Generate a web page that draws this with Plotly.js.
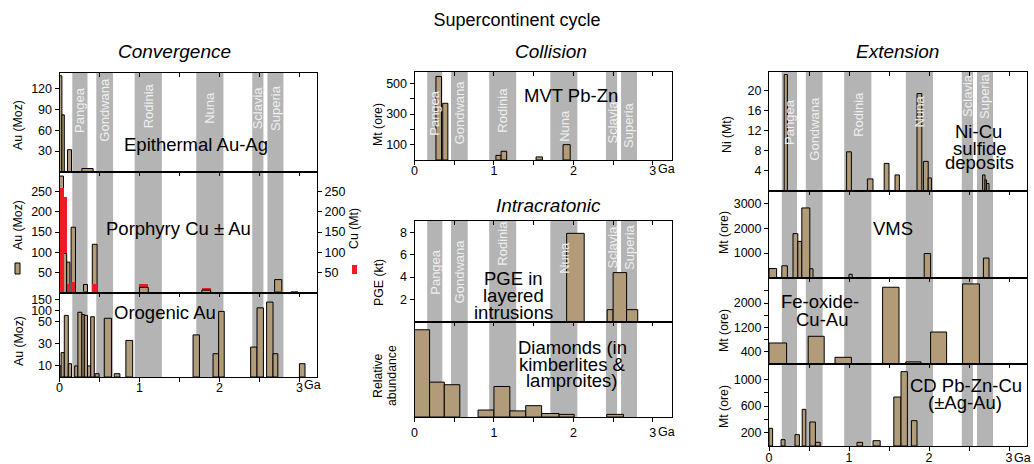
<!DOCTYPE html>
<html><head><meta charset="utf-8">
<script src="https://cdn.plot.ly/plotly-3.0.1.min.js"></script>
<style>html,body{margin:0;padding:0;background:#fff}#chart{width:1034px;height:464px}</style>
</head><body><div id="chart"></div>
<script>
// ---------- DATA (ages in Ga) ----------
const bandNames = ['Pangea','Gondwana','Rodinia','Nuna','Sclavia','Superia'];
const bandStart = [0.16, 0.46, 0.94, 1.71, 2.41, 2.60];
const bandEnd   = [0.35, 0.67, 1.28, 2.05, 2.55, 2.80];

// Epithermal Au-Ag (Moz Au)
const epiStart = [0.00, 0.03, 0.10, 0.28];
const epiEnd   = [0.03, 0.06, 0.15, 0.42];
const epiAu    = [138, 82, 32, 5];

// Porphyry Cu ± Au
const porAuStart = [0.00, 0.05, 0.09, 0.145, 0.30, 0.41, 1.00, 1.78, 2.69];
const porAuEnd   = [0.05, 0.09, 0.13, 0.20, 0.35, 0.47, 1.11, 1.89, 2.78];
const porAu      = [288, 97, 76, 162, 21, 120, 14, 7, 33];
const porCuStart = [0.00, 0.05, 0.09, 0.145, 0.30, 0.41, 1.00, 1.78, 2.69, 2.89];
const porCuEnd   = [0.05, 0.09, 0.13, 0.20, 0.35, 0.47, 1.11, 1.89, 2.78, 2.98];
const porCu      = [258, 237, 22, 26, 6, 23, 21, 12, 4, 4];

// Orogenic Au (Moz)
const oroStart = [0.00, 0.02, 0.06, 0.11, 0.19, 0.23, 0.28, 0.31, 0.35, 0.39, 0.445, 0.56, 0.685, 0.83, 1.67, 1.92, 1.99, 2.39, 2.47, 2.59, 2.67, 3.00];
const oroEnd   = [0.02, 0.06, 0.11, 0.15, 0.23, 0.28, 0.31, 0.35, 0.39, 0.435, 0.495, 0.65, 0.755, 0.915, 1.75, 1.99, 2.06, 2.47, 2.55, 2.67, 2.73, 3.07];
const oroAu    = [10, 22, 78, 12, 10, 92, 82, 78, 10, 72, 3, 65, 3, 33, 38, 21, 96, 27, 112, 138, 21, 12];

// MVT Pb-Zn (Mt ore)
const mvtStart = [0.27, 0.355, 1.025, 1.09, 1.53, 1.87];
const mvtEnd   = [0.34, 0.42, 1.09, 1.16, 1.61, 1.96];
const mvtOre   = [545, 370, 30, 57, 20, 100];

// PGE in layered intrusions (kt)
const pgeStart = [1.915, 2.425, 2.50, 2.67];
const pgeEnd   = [2.136, 2.50, 2.67, 2.81];
const pgeKt    = [7.9, 1.1, 4.4, 1.1];

// Diamonds (relative abundance)
const diaStart = [0.00, 0.19, 0.375, 0.80, 1.00, 1.20, 1.40, 1.60, 1.82, 2.42];
const diaEnd   = [0.19, 0.375, 0.57, 1.00, 1.20, 1.40, 1.60, 1.82, 2.01, 2.63];
const diaRel   = [100, 40, 37, 8, 35, 7, 13, 4, 3, 3];

// Ni-Cu sulfide deposits (Mt Ni)
const niStart = [0.19, 0.97, 1.23, 1.44, 1.575, 1.85, 1.93, 1.99, 2.67, 2.70, 2.72];
const niEnd   = [0.23, 1.03, 1.30, 1.50, 1.63, 1.91, 1.99, 2.03, 2.70, 2.72, 2.75];
const niMt    = [23.2, 7.8, 2.4, 5.5, 3.2, 19.4, 5.9, 2.6, 3.2, 2.2, 1.5];

// VMS (Mt ore)
const vmsStart = [0.00, 0.16, 0.30, 0.36, 0.41, 0.51, 1.00, 1.94, 2.68];
const vmsEnd   = [0.095, 0.23, 0.36, 0.41, 0.51, 0.55, 1.04, 2.02, 2.75];
const vmsOre   = [380, 490, 1780, 1470, 2810, 370, 150, 980, 800];

// Fe-oxide-Cu-Au (Mt ore)
const iocStart = [0.00, 0.49, 0.825, 1.42, 1.71, 2.02, 2.42];
const iocEnd   = [0.22, 0.69, 1.03, 1.625, 1.90, 2.22, 2.63];
const iocOre   = [690, 910, 220, 2520, 70, 1050, 2630];

// CD Pb-Zn-Cu (Mt ore)
const cdStart = [0.00, 0.15, 0.325, 0.415, 0.51, 0.58, 1.10, 1.30, 1.56, 1.65, 1.78];
const cdEnd   = [0.045, 0.20, 0.38, 0.46, 0.58, 0.64, 1.17, 1.39, 1.65, 1.73, 1.85];
const cdOre   = [265, 95, 170, 550, 360, 55, 55, 80, 735, 1115, 380];

// Tick labels
const epiTicks = [30, 60, 90, 120];
const porTicks = [50, 100, 150, 200, 250];
const oroTicks = [10, 30, 50, 100, 150];
const mvtTicks = [100, 200, 300, 400, 500];
const mvtTickText = ['100', '', '300', '', '500'];
const pgeTicks = [2, 4, 6, 8];
const niTicks = [4, 8, 12, 16, 20];
const vmsTicks = [1000, 2000, 3000];
const iocTicks = [400, 800, 1200, 1600, 2000, 2400];
const iocTickText = ['400', '', '1200', '', '2000', ''];
const cdTicks = [200, 400, 600, 800, 1000];
const cdTickText = ['200', '', '600', '', '1000'];
const ageTicks = [0, 0.5, 1, 1.5, 2, 2.5, 3];
const ageTickText = ['0', '', '1', '', '2', '', '3'];

// ---------- STYLE / LAYOUT ----------
const FONT = 'Liberation Sans, Arial, Helvetica, sans-serif';
const BROWN = '#b29b79';
const RED = '#ed1c24';
const BAND = '#b4b4b4';
const W = 1034, H = 464;
const py = p => 1 - p / H;
const pxx = p => p / W;

// broken axis for orogenic panel: linear to 50, compressed above
const oroMap = v => v <= 50 ? v : 50 + (v - 50) * 0.2;

const cols = {
  L: {x0: 59.5, x1: 317, r: 3.22},
  M: {x0: 414.5, x1: 672.3, r: 3.245},
  R: {x0: 769, x1: 1026.6, r: 3.22}
};
const panels = [
  {n: 1, col: 'L', top: 73, bot: 172, yr: [0, 142], tv: epiTicks},
  {n: 2, col: 'L', top: 172, bot: 293, yr: [0, 298], tv: porTicks},
  {n: 3, col: 'L', top: 293, bot: 377, yr: [0, 75.8], tv: oroTicks.map(oroMap), tt: oroTicks.map(String), bottom: true, lso: -5, lab: 385},
  {n: 4, col: 'M', top: 72, bot: 160, yr: [0, 574], tv: mvtTicks, tt: mvtTickText, bottom: true, lso: -5, lab: 168.5},
  {n: 5, col: 'M', top: 221, bot: 322, yr: [0, 9], tv: pgeTicks},
  {n: 6, col: 'M', top: 322, bot: 417, yr: [0, 108.9], tv: [], bottom: true, lso: 0, lab: 432},
  {n: 7, col: 'R', top: 72, bot: 191, yr: [0, 23.7], tv: niTicks},
  {n: 8, col: 'R', top: 191, bot: 278, yr: [0, 3490], tv: vmsTicks},
  {n: 9, col: 'R', top: 278, bot: 364, yr: [0, 2824], tv: iocTicks, tt: iocTickText},
  {n: 10, col: 'R', top: 364, bot: 446, yr: [0, 1230], tv: cdTicks, tt: cdTickText, bottom: true, lso: -4, lab: 457.5}
];

const layout = {
  width: W, height: H, autosize: false,
  margin: {l: 0, r: 0, t: 0, b: 0, pad: 0},
  paper_bgcolor: '#fff', plot_bgcolor: 'rgba(0,0,0,0)',
  showlegend: false, barmode: 'overlay', bargap: 0,
  font: {family: FONT, size: 12, color: '#000'},
  title: {text: 'Supercontinent cycle', x: 0.5, xanchor: 'center', y: py(20), yanchor: 'middle', font: {family: FONT, size: 18, color: '#000'}},
  shapes: [], annotations: []
};
const traces = [];
const axName = (p, n) => n === 1 ? p : p + n;

let overlayIdx = 11;
panels.forEach(P => {
  const c = cols[P.col];
  const xa = axName('xaxis', P.n), ya = axName('yaxis', P.n);
  const xr = axName('x', P.n), yr = axName('y', P.n);
  layout[xa] = {
    domain: [pxx(c.x0), pxx(c.x1)], range: [0, c.r], anchor: yr, side: 'top',
    ticks: 'inside', ticklen: 4, tickwidth: 1, tickcolor: '#000', tick0: 0, dtick: 0.5,
    showticklabels: false, showline: true, mirror: true, linecolor: '#000', linewidth: 1,
    showgrid: false, zeroline: false, fixedrange: true
  };
  layout[ya] = {
    domain: [py(P.bot), py(P.top)], range: P.yr, anchor: xr,
    ticks: P.tv.length ? 'outside' : '', ticklen: 4, tickwidth: 1, tickcolor: '#000',
    tickmode: 'array', tickvals: P.tv, ticktext: P.tt || P.tv.map(String),
    tickfont: {family: FONT, size: 12.5, color: '#000'},
    showline: true, mirror: true, linecolor: '#000', linewidth: 1,
    showgrid: false, zeroline: false, fixedrange: true
  };
  if (P.bottom) {
    const oid = 'x' + overlayIdx;
    layout['xaxis' + overlayIdx] = {
      overlaying: xr, anchor: yr, side: 'bottom', range: [0, c.r],
      ticks: 'outside', ticklen: 4, tickwidth: 1, tickcolor: '#000',
      tickmode: 'array', tickvals: ageTicks, ticktext: ageTickText,
      ticklabelstandoff: P.lso,
      tickfont: {family: FONT, size: 12.5, color: '#000'},
      showline: false, showgrid: false, zeroline: false, fixedrange: true
    };
    traces.push({type: 'scatter', x: [], y: [], xaxis: oid, yaxis: yr, hoverinfo: 'skip', showlegend: false});
    layout.annotations.push({xref: xr, yref: 'paper', x: 3, xshift: 3, xanchor: 'left', y: py(P.lab), yanchor: 'middle',
      text: 'Ga', showarrow: false, font: {family: FONT, size: 12.5, color: '#000'}});
    overlayIdx++;
  }
  // supercontinent bands
  bandStart.forEach((s, i) => {
    layout.shapes.push({type: 'rect', xref: xr, yref: yr + ' domain', x0: s, x1: bandEnd[i], y0: 0, y1: 1,
      fillcolor: BAND, line: {width: 0}, layer: 'below'});
  });
});

function bars(starts, ends, vals, n, color, outline, map) {
  const f = map || (v => v);
  return {
    type: 'bar', x: starts.map((s, i) => (s + ends[i]) / 2), y: vals.map(f),
    width: starts.map((s, i) => ends[i] - s),
    xaxis: axName('x', n), yaxis: axName('y', n),
    marker: {color: color, line: {color: outline ? '#000' : color, width: outline ? 1 : 0}},
    hoverinfo: 'skip', showlegend: false
  };
}

// Panel 1
traces.push(bars(epiStart, epiEnd, epiAu, 1, BROWN, true));
// Panel 2: smaller value drawn in front (Cu uses same scale as Au)
const cuBehind = {s: [], e: [], v: []}, cuFront = {s: [], e: [], v: []};
porCuStart.forEach((s, i) => {
  const j = porAuStart.indexOf(s);
  const target = (j >= 0 && porCu[i] > porAu[j]) ? cuBehind : cuFront;
  target.s.push(s); target.e.push(porCuEnd[i]); target.v.push(porCu[i]);
});
traces.push(bars(cuBehind.s, cuBehind.e, cuBehind.v, 2, RED, false));
traces.push(bars(porAuStart, porAuEnd, porAu, 2, BROWN, true));
traces.push(bars(cuFront.s, cuFront.e, cuFront.v, 2, RED, false));
// right-hand Cu (Mt) axis
layout.yaxis11 = {
  overlaying: 'y2', anchor: 'x2', side: 'right', range: [0, 298],
  ticks: 'outside', ticklen: 4, tickwidth: 1, tickcolor: '#000',
  tickmode: 'array', tickvals: porTicks, ticktext: porTicks.map(String),
  tickfont: {family: FONT, size: 12.5, color: '#000'},
  showline: false, showgrid: false, zeroline: false, fixedrange: true
};
traces.push({type: 'scatter', x: [], y: [], xaxis: 'x2', yaxis: 'y11', hoverinfo: 'skip', showlegend: false});
// Other panels
traces.push(bars(oroStart, oroEnd, oroAu, 3, BROWN, true, oroMap));
traces.push(bars(mvtStart, mvtEnd, mvtOre, 4, BROWN, true));
traces.push(bars(pgeStart, pgeEnd, pgeKt, 5, BROWN, true));
traces.push(bars(diaStart, diaEnd, diaRel, 6, BROWN, true));
traces.push(bars(niStart, niEnd, niMt, 7, BROWN, true));
traces.push(bars(vmsStart, vmsEnd, vmsOre, 8, BROWN, true));
traces.push(bars(iocStart, iocEnd, iocOre, 9, BROWN, true));
traces.push(bars(cdStart, cdEnd, cdOre, 10, BROWN, true));

// band labels in top panels
const bandLabelY = {
  1: [110, 110, 106, 108, 107.5, 107.5],
  4: [113, 112, 110, 126, 122, 125],
  5: [272, 271, 243, 258, 247, 247],
  7: [121.5, 128.5, 114, 111, 95.5, 96]
};
Object.keys(bandLabelY).forEach(k => {
  const n = +k;
  bandNames.forEach((name, i) => {
    layout.annotations.push({xref: axName('x', n), yref: 'paper', x: (bandStart[i] + bandEnd[i]) / 2,
      y: py(bandLabelY[k][i]), xanchor: 'center', yanchor: 'middle', textangle: -90,
      text: name, showarrow: false, font: {family: FONT, size: 13, color: '#efefef'}});
  });
});

// free text helper (pixel positions)
function txt(t, x, y, size, opts) {
  layout.annotations.push(Object.assign({xref: 'paper', yref: 'paper', x: pxx(x), y: py(y),
    xanchor: 'center', yanchor: 'middle', text: t, showarrow: false,
    font: {family: FONT, size: size, color: '#000'}}, opts || {}));
}
// column headings
txt('<i>Convergence</i>', 174.5, 52, 19);
txt('<i>Collision</i>', 551, 52, 19);
txt('<i>Extension</i>', 897.5, 52, 19);
txt('<i>Intracratonic</i>', 548.5, 205, 19);
// panel labels
const LS = 18.5;
txt('Epithermal Au-Ag', 196, 144.5, LS);
txt('Porphyry Cu ± Au', 178, 228, LS);
txt('Orogenic Au', 164.5, 312, LS);
txt('MVT Pb-Zn', 571, 95, LS);
txt('PGE in', 513, 278.5, LS);
txt('layered', 513, 295.5, LS);
txt('intrusions', 513, 312, LS);
txt('Diamonds (in', 572, 347.5, LS);
txt('kimberlites &', 572, 364, LS);
txt('lamproites)', 572, 380.5, LS);
txt('Ni-Cu', 978, 131.5, LS);
txt('sulfide', 980, 148, LS);
txt('deposits', 980, 162.5, LS);
txt('VMS', 893, 228.5, LS);
txt('Fe-oxide-', 820, 301.5, LS);
txt('Cu-Au', 822, 319, LS);
txt('CD Pb-Zn-Cu', 965.5, 385, LS);
txt('(±Ag-Au)', 965, 402.5, LS);
// axis titles
const AT = 12.3;
txt('Au (Moz)', 18, 125, AT, {textangle: -90});
txt('Au (Moz)', 18, 225, AT, {textangle: -90});
txt('Cu (Mt)', 354, 229, AT, {textangle: -90});
txt('Au (Moz)', 19, 341, AT, {textangle: -90});
txt('Mt (ore)', 378, 125, AT, {textangle: -90});
txt('PGE (kt)', 379, 283, AT, {textangle: -90});
txt('Relative', 378, 376, AT, {textangle: -90});
txt('abundance', 392, 376, AT, {textangle: -90});
txt('Ni (Mt)', 727, 135, AT, {textangle: -90});
txt('Mt (ore)', 724, 233, AT, {textangle: -90});
txt('Mt (ore)', 724, 331, AT, {textangle: -90});
txt('Mt (ore)', 724, 407, AT, {textangle: -90});
// legend swatches in porphyry panel
layout.shapes.push({type: 'rect', xref: 'paper', yref: 'paper', x0: pxx(15), x1: pxx(20), y0: py(274), y1: py(263),
  fillcolor: BROWN, line: {color: '#000', width: 1}});
layout.shapes.push({type: 'rect', xref: 'paper', yref: 'paper', x0: pxx(352), x1: pxx(357), y0: py(274), y1: py(265),
  fillcolor: RED, line: {width: 0}});

Plotly.newPlot('chart', traces, layout, {displayModeBar: false, staticPlot: true});
</script>
</body></html>
